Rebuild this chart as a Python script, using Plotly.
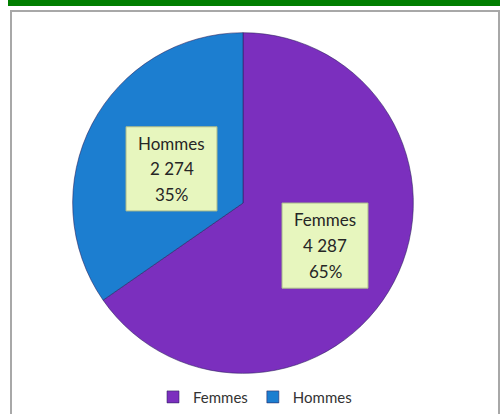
import plotly.graph_objects as go

labels = ["Femmes", "Hommes"]
values = [4287, 2274]
colors = ["#7B2FBE", "#1C7ED0"]

W, H = 500, 414
total = sum(values)
pcts = [round(v * 100 / total) for v in values]

def fmt(v):
    return f"{v:,}".replace(",", " ")

fig = go.Figure(go.Pie(
    labels=labels, values=values, sort=False, direction="clockwise", rotation=0,
    marker=dict(colors=colors, line=dict(color="rgba(40,30,90,0.55)", width=1)),
    textinfo="none", hoverinfo="label+value+percent",
    domain=dict(x=[(243 - 174) / W, (243 + 174) / W], y=[1 - 377 / H, 1 - 33 / H]),
))

def px(x):
    return x / W

def py(y):
    return 1 - y / H

shapes = [
    dict(type="rect", xref="paper", yref="paper", x0=px(8), x1=px(500), y0=py(6), y1=py(0),
         fillcolor="#007E00", line=dict(width=0), layer="below"),
    dict(type="rect", xref="paper", yref="paper", x0=px(11), x1=px(499), y0=py(430), y1=py(11),
         fillcolor="rgba(0,0,0,0)", line=dict(color="#A8A8A8", width=2), layer="below"),
]

# label boxes (layout positions), text from data
boxes = {"Hommes": (126, 217, 128, 213), "Femmes": (282, 368, 205, 291)}
annotations = []
for lab, val, pc in zip(labels, values, pcts):
    x0, x1, y0, y1 = boxes[lab]
    shapes.append(dict(type="rect", xref="paper", yref="paper", x0=px(x0), x1=px(x1),
                       y0=py(y1), y1=py(y0), fillcolor="#E7F6BE",
                       line=dict(color="#A9B98A", width=1), layer="above"))
    cx = (x0 + x1) / 2
    cy = (y0 + y1) / 2
    for i, t in enumerate([lab, fmt(val), f"{pc}%"]):
        annotations.append(dict(xref="paper", yref="paper", x=px(cx), y=py(cy + (i - 1) * 26),
                                text=t, showarrow=False, xanchor="center", yanchor="middle",
                                font=dict(family="Lato, Open Sans, sans-serif", size=17, color="#262626")))

fig.update_layout(
    width=W, height=H, margin=dict(l=0, r=0, t=0, b=0),
    paper_bgcolor="white", plot_bgcolor="white",
    shapes=shapes, annotations=annotations,
    showlegend=True,
    legend=dict(orientation="h", x=0.51, xanchor="center", y=py(401), yanchor="middle",
                font=dict(family="Lato, Open Sans, sans-serif", size=15, color="#333333"),
                itemwidth=30, bgcolor="rgba(0,0,0,0)"),
)

fig.write_html("out.html", config={"displayModeBar": False},
               post_script="document.body.style.margin='0';document.body.style.overflow='hidden';")
